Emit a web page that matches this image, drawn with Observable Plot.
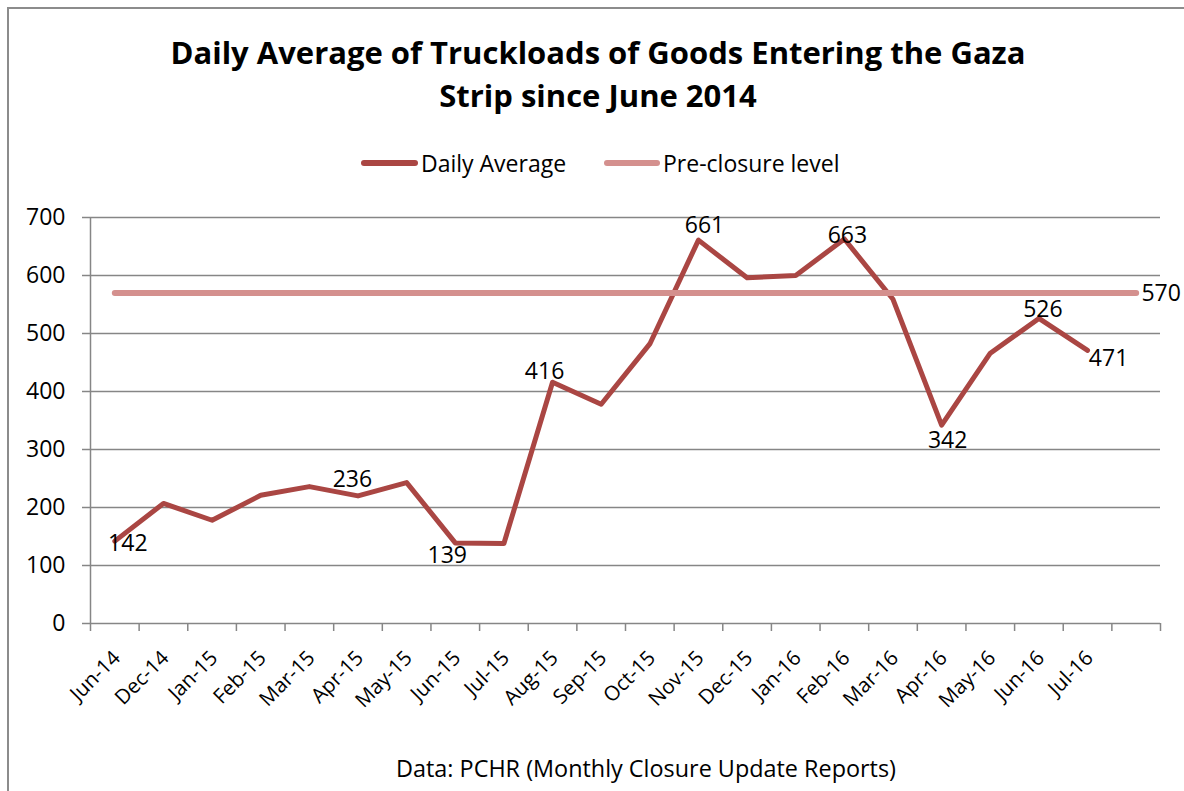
<!DOCTYPE html>
<html><head><meta charset="utf-8">
<script src="https://cdn.jsdelivr.net/npm/d3@7"></script>
<script src="https://cdn.jsdelivr.net/npm/@observablehq/plot@0.6"></script>
<style>
html,body{margin:0;padding:0;background:#fff;overflow:hidden;width:1184px;height:791px;position:relative;font-family:"Open Sans",sans-serif;color:#000}
#frame{position:absolute;left:7px;top:7px;width:1400px;height:1000px;border:2px solid #8c8c8c;}
#title{position:absolute;left:6px;top:31px;width:1184px;text-align:center;font-weight:bold;font-size:31px;line-height:43px;}
.sw{position:absolute;top:160px;height:6px;border-radius:3px;}
.lt{position:absolute;top:148px;font-size:23px;line-height:30px;white-space:nowrap;}
#caption{position:absolute;left:54px;top:753px;width:1184px;text-align:center;font-size:23.4px;line-height:30px;}
#chart{position:absolute;left:0;top:190px;}
</style></head>
<body>
<div id="frame"></div>
<div id="title">Daily Average of Truckloads of Goods Entering the Gaza<br>Strip since June 2014</div>
<div class="sw" style="left:361px;width:57px;background:#AA4643"></div>
<div class="lt" style="left:421px">Daily Average</div>
<div class="sw" style="left:604px;width:56px;background:#D4908E"></div>
<div class="lt" style="left:663px">Pre-closure level</div>
<div id="chart"></div>
<div id="caption">Data: PCHR (Monthly Closure Update Reports)</div>
<script>
const months = ["Jun-14","Dec-14","Jan-15","Feb-15","Mar-15","Apr-15","May-15","Jun-15","Jul-15","Aug-15","Sep-15","Oct-15","Nov-15","Dec-15","Jan-16","Feb-16","Mar-16","Apr-16","May-16","Jun-16","Jul-16",""];
const dailyAverage = [142,207,178,221,236,220,243,139,138,416,378,482,661,596,600,663,559,342,466,526,471];
const preClosureLevel = 570;
const yTicks = [0,100,200,300,400,500,600,700];
const labeledMonths = ["Jun-14","Mar-15","Jun-15","Aug-15","Nov-15","Feb-16","Apr-16","Jun-16","Jul-16"];

const daily = dailyAverage.map((v,i)=>({i, v, m: months[i]}));
const pre = months.map((m,i)=>({i, v: preClosureLevel}));

// label placement (styling only)
const offsets = {"Jun-14":[13,2],"Mar-15":[43,-7],"Jun-15":[-8,13],"Aug-15":[-8,-11],"Nov-15":[6,-14],"Feb-16":[3,-3],"Apr-16":[6,15],"Jun-16":[4,-9],"Jul-16":[21,8],"pre":[25,1]};
const labels = daily.filter(d=>labeledMonths.includes(d.m)).map(d=>({i:d.i, v:d.v, text:String(d.v), key:d.m}));
labels.push({i: months.length-1, v: preClosureLevel, text: String(preClosureLevel), key:"pre"});

const gray = "#868686";
const chart = Plot.plot({
  width: 1184, height: 540,
  marginLeft: 90, marginRight: 24, marginTop: 27, marginBottom: 107,
  x: {type: "linear", domain: [-0.5, months.length - 0.5]},
  y: {domain: [0, 700]},
  style: {fontFamily: "'Open Sans'", fontSize: "23px", color: "#000", background: "transparent", overflow: "visible"},
  marks: [
    Plot.gridY(yTicks, {stroke: gray, strokeOpacity: 1, strokeWidth: 1.5}),
    Plot.ruleX([-0.5], {stroke: gray, strokeWidth: 1.5}),
    Plot.axisY({ticks: yTicks, tickSize: 8, tickPadding: 17, stroke: gray, strokeWidth: 1.5, label: null, fill: "#000", fontSize: 23}),
    Plot.axisX({ticks: d3.range(-0.5, months.length, 1), tickSize: 8, tickFormat: () => "", stroke: gray, strokeWidth: 1.5, label: null}),
    Plot.axisX({ticks: d3.range(0, months.length), tickSize: 0, tickRotate: -45, textAnchor: "end", tickPadding: 31, dx: 2, tickFormat: i => months[i], label: null, fill: "#000", fontSize: 20.5}),
    Plot.line(daily, {x: "i", y: "v", stroke: "#AA4643", strokeWidth: 5, strokeLinecap: "round", strokeLinejoin: "round"}),
    Plot.line(pre, {x: "i", y: "v", stroke: "#D4908E", strokeWidth: 6, strokeLinecap: "round"}),
    ...labels.map(l => Plot.text([l], {x: "i", y: "v", text: "text", dx: offsets[l.key][0], dy: offsets[l.key][1], fill: "#000", fontSize: 23}))
  ]
});
document.getElementById("chart").appendChild(chart);
</script>
</body></html>
